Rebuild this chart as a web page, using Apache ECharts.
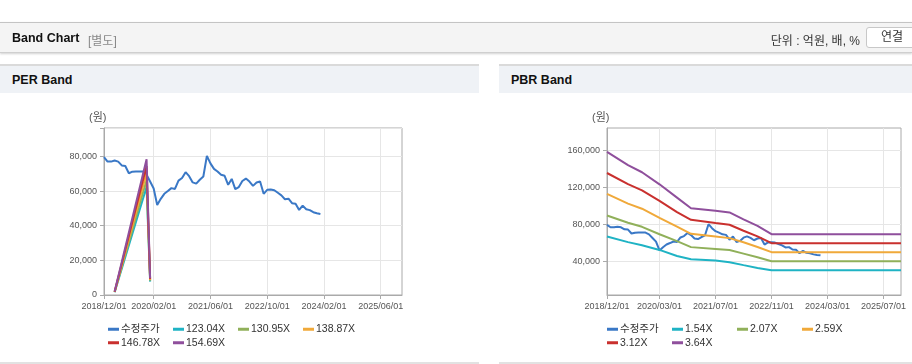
<!DOCTYPE html>
<html>
<head>
<meta charset="utf-8">
<script src="https://cdn.jsdelivr.net/npm/echarts@6/dist/echarts.min.js"></script>
<style>
  body { margin: 0; width: 912px; height: 364px; overflow: hidden; background: #fff;
    font-family: "Liberation Sans", Arial, "Noto Sans CJK KR", sans-serif; }
  #chart { position: absolute; left: 0; top: 0; width: 912px; height: 364px; }
  .bar { position: absolute; left: 0; top: 22px; width: 912px; height: 29px; background: #f4f4f4;
    border-top: 1px solid #c4c4c4; border-bottom: 1px solid #cfcfcf; box-shadow: 0 1px 2px rgba(0,0,0,0.18); z-index: 2; }
  .bar .title { position: absolute; left: 12px; top: 8px; font-size: 12.5px; font-weight: bold; color: #111; }
  .bar .sub { position: absolute; left: 88px; top: 8px; font-size: 12px; color: #888; }
  .bar .unit { position: absolute; right: 52px; top: 8px; font-size: 12px; color: #333; }
  .bar .btn { position: absolute; left: 866px; top: 4px; width: 52px; height: 19px; border: 1px solid #c8c8c8;
    border-radius: 3px; background: #fff; font-size: 12px; color: #333; line-height: 19px; text-indent: 14px; }
  .panel { position: absolute; top: 64px; height: 27px; background: #eff2f6; border-top: 2px solid #dadada; z-index: 2; }
  .panel span { position: absolute; left: 12px; top: 7px; font-size: 12.5px; font-weight: bold; color: #111; }
  .foot { position: absolute; top: 362px; height: 0; border-top: 2px solid #e2e2e2; z-index: 2; }
</style>
</head>
<body>
<div id="chart"></div>
<div class="bar">
  <div class="title">Band Chart</div>
  <div class="sub">[별도]</div>
  <div class="unit">단위 : 억원, 배, %</div>
  <div class="btn">연결</div>
</div>
<div class="panel" style="left:0;width:479px"><span>PER Band</span></div>
<div class="panel" style="left:499px;width:413px"><span>PBR Band</span></div>
<div class="foot" style="left:0;width:479px"></div>
<div class="foot" style="left:499px;width:413px"></div>
<script>
// monthly categories 2018/12 .. 2025/12
const months = [];
for (let y = 2018, m = 12; months.length < 85;) {
  months.push(y + '/' + String(m).padStart(2, '0') + '/01');
  m++;
  if (m > 12) { m = 1; y++; }
}

const perTicks = ['2018/12/01', '2020/02/01', '2021/06/01', '2022/10/01', '2024/02/01', '2025/06/01'];
const pbrTicks = ['2018/12/01', '2020/03/01', '2021/07/01', '2022/11/01', '2024/03/01', '2025/07/01'];

const perNames = ['수정주가', '123.04X', '130.95X', '138.87X', '146.78X', '154.69X'];
const pbrNames = ['수정주가', '1.54X', '2.07X', '2.59X', '3.12X', '3.64X'];
const colors = ['#3a78c6', '#1fb3c4', '#90b05a', '#f0a93a', '#c9302e', '#8f4f9c'];

// 수정주가 (monthly, 2018/12 .. 2024/01)
const price = [
  79600, 77000, 77000, 77600, 77000, 74800, 74500, 70300, 71200, 71300,
  71300, 71300, 69400, 65500, 61500, 52000, 55500, 58400, 60000, 61700,
  61200, 66000, 67500, 70900, 68600, 65000, 64300, 66500, 68400, 80300,
  76000, 72800, 71300, 69400, 68800, 63600, 67000, 61100, 62300, 65800,
  67200, 65500, 63000, 64900, 65500, 58400, 60700, 60900, 60500, 59000,
  57500, 55300, 55600, 53000, 52700, 49100, 51600, 49500, 49000, 47800,
  47200, 46800
];

// PER band points
const per123 = [['2019/03/01', 1600], ['2019/12/01', 62400], ['2020/01/01', 7700]];
const per131 = [['2019/03/01', 1700], ['2019/12/01', 66400], ['2020/01/01', 8200]];
const per139 = [['2019/03/01', 1800], ['2019/12/01', 70400], ['2020/01/01', 8700]];
const per147 = [['2019/03/01', 1900], ['2019/12/01', 74400], ['2020/01/01', 9200]];
const per155 = [['2019/03/01', 2000], ['2019/12/01', 78400], ['2020/01/01', 9700]];

// PBR band points
const pbrDates = ['2018/12/01', '2019/06/01', '2019/10/01', '2020/03/01', '2020/08/01', '2020/12/01',
  '2021/07/01', '2021/11/01', '2022/03/01', '2022/07/01', '2022/11/01', '2025/12/01'];
const pbr154 = [67000, 61000, 57600, 52600, 46100, 42600, 41100, 39300, 36200, 33200, 30700, 30700];
const pbr207 = [89700, 81900, 77500, 69500, 62000, 55600, 53700, 52600, 48600, 44600, 40400, 40400];
const pbr259 = [112900, 102500, 97000, 87200, 77600, 69900, 67000, 65300, 60800, 55800, 50200, 50200];
const pbr312 = [135500, 123500, 116800, 105500, 93400, 85100, 81500, 79700, 73300, 67200, 59900, 59900];
const pbr364 = [158300, 144000, 136300, 123300, 109000, 97500, 94800, 93000, 85500, 78500, 69600, 69600];

const pair = (vals) => vals.map((v, i) => [pbrDates[i], v]);
const fmt = (v) => String(v).replace(/\B(?=(\d{3})+(?!\d))/g, ',');
const font = '"Liberation Sans", Arial, "Noto Sans CJK KR", sans-serif';

const xAxisFor = (ticks, gridIndex) => {
  const pick = (idx, value) => ticks.includes(value);
  return {
    type: 'category', gridIndex, boundaryGap: false, data: months,
    axisLine: { lineStyle: { color: '#aaa' } },
    axisTick: { interval: pick, length: 4, lineStyle: { color: '#aaa' } },
    axisLabel: { interval: pick, fontSize: 9, color: '#555', margin: 7, fontFamily: font },
    splitLine: { show: true, interval: pick, lineStyle: { color: '#e6e6e6' } },
  };
};

const lineSeries = (name, data, color, xi) => ({
  name, type: 'line', data, xAxisIndex: xi, yAxisIndex: xi,
  showSymbol: false, connectNulls: true, lineStyle: { width: 2, color }, itemStyle: { color },
});

const legendItem = (name, left, top) => ({
  data: [name], left, top, padding: 0, icon: 'rect', itemWidth: 11, itemHeight: 3,
  selectedMode: false, textStyle: { fontSize: 10.5, color: '#333', fontFamily: font, padding: [0, 0, 0, -3] },
});

const legends = [];
[perNames, pbrNames].forEach((names, c) => {
  const x0 = c === 0 ? 108 : 607;
  names.forEach((n, i) => {
    legends.push(legendItem(n, x0 + (i % 4) * 65, i < 4 ? 324 : 337.5));
  });
});

const chart = echarts.init(document.getElementById('chart'));
chart.setOption({
  animation: false,
  grid: [
    { left: 104, top: 128, width: 298, height: 167, show: true, borderColor: '#aaa', borderWidth: 1 },
    { left: 607, top: 128, width: 294, height: 167, show: true, borderColor: '#aaa', borderWidth: 1 },
  ],
  xAxis: [xAxisFor(perTicks, 0), xAxisFor(pbrTicks, 1)],
  yAxis: [
    {
      type: 'value', gridIndex: 0, min: 0, max: 96400, interval: 20000,
      axisLine: { show: true, lineStyle: { color: '#aaa' } },
      axisTick: { show: true, length: 4, lineStyle: { color: '#aaa' } },
      axisLabel: { fontSize: 9, color: '#555', margin: 7, fontFamily: font,
        formatter: (v) => (v % 20000 === 0 ? fmt(v) : '') },
      splitLine: { lineStyle: { color: '#e6e6e6' } },
    },
    {
      type: 'value', gridIndex: 1, min: 4000, max: 184000,
      axisLine: { show: true, lineStyle: { color: '#aaa' } },
      axisTick: { show: true, length: 4, lineStyle: { color: '#aaa' }, customValues: [40000, 80000, 120000, 160000] },
      axisLabel: { fontSize: 9, color: '#555', margin: 7, fontFamily: font, formatter: fmt,
        customValues: [40000, 80000, 120000, 160000] },
      splitLine: { lineStyle: { color: '#e6e6e6' } },
    },
  ],
  legend: legends,
  graphic: [
    { type: 'text', left: 89, top: 112, style: { text: '(원)', fontSize: 11, fill: '#555', fontFamily: font } },
    { type: 'text', left: 592, top: 112, style: { text: '(원)', fontSize: 11, fill: '#555', fontFamily: font } },
  ],
  series: [
    lineSeries(perNames[0], price, colors[0], 0),
    lineSeries(perNames[1], per123, colors[1], 0),
    lineSeries(perNames[2], per131, colors[2], 0),
    lineSeries(perNames[3], per139, colors[3], 0),
    lineSeries(perNames[4], per147, colors[4], 0),
    lineSeries(perNames[5], per155, colors[5], 0),
    lineSeries(pbrNames[0], price, colors[0], 1),
    lineSeries(pbrNames[1], pair(pbr154), colors[1], 1),
    lineSeries(pbrNames[2], pair(pbr207), colors[2], 1),
    lineSeries(pbrNames[3], pair(pbr259), colors[3], 1),
    lineSeries(pbrNames[4], pair(pbr312), colors[4], 1),
    lineSeries(pbrNames[5], pair(pbr364), colors[5], 1),
  ],
});
</script>
</body>
</html>
